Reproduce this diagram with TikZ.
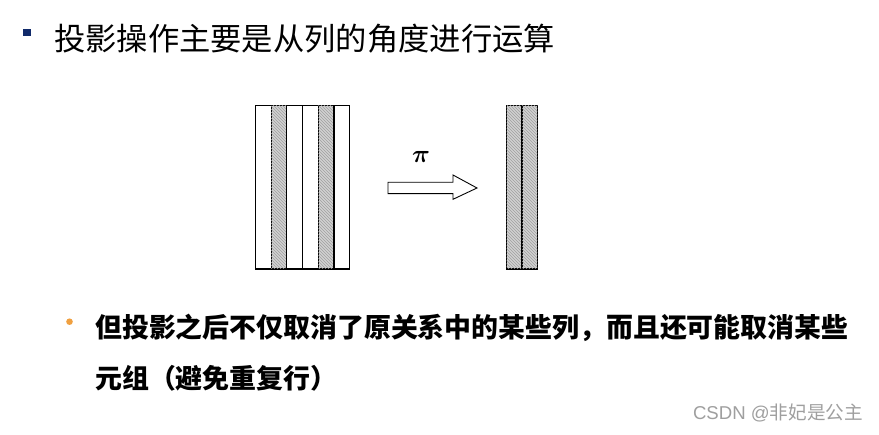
\documentclass[tikz,border=0pt]{standalone}
\usepackage{fontspec}
\usepackage{amsmath,bm}
\newfontfamily\cjk{Noto Sans CJK SC}
\newfontfamily\arial{Liberation Sans}
\usetikzlibrary{patterns}
\definecolor{navy}{HTML}{102A6A}
\definecolor{bulorange}{HTML}{F0A040}
\tikzset{
  colbox/.style={draw=black, line width=1.1pt},
  hatchbox/.style={colbox, fill=gray!35, postaction={pattern=north west lines, pattern color=gray!75}},
  blockarrow/.style={draw=black, line width=0.9pt, fill=white},
  titletext/.style={font=\cjk\fontsize{31.3}{36}\selectfont, anchor=west, inner sep=0pt},
  bodytext/.style={font=\cjk\bfseries\fontsize{26.9}{30}\selectfont, anchor=west, inner sep=0pt},
}
\begin{document}
\begin{tikzpicture}[x=1pt,y=-1pt]
\useasboundingbox[fill=white] (0,0) rectangle (879,435);
% title
\fill[navy] (23,28.7) rectangle (30.6,36.2);
\node[titletext] (title) at (54,39) {投影操作主要是从列的角度进行运算};
% left relation
\draw[colbox] (255.5,105.7) rectangle (271.2,269);
\draw[hatchbox] (271.2,105.7) rectangle (286.9,269);
\draw[colbox] (286.9,105.7) rectangle (302.6,269);
\draw[colbox] (302.6,105.7) rectangle (318.3,269);
\draw[hatchbox] (318.3,105.7) rectangle (334.0,269);
\draw[colbox] (334.0,105.7) rectangle (349.7,269);
% right relation
\draw[hatchbox] (506.7,105.7) rectangle (522.0,269);
\draw[hatchbox] (522.0,105.7) rectangle (537.3,269);
% arrow
\draw[blockarrow] (388,182.3) -- (453,182.3) -- (453,175) -- (477,188) -- (453,199.3) -- (453,193.7) -- (388,193.7) -- cycle;
\node[inner sep=0pt] (pi) at (421,157) {\fontsize{26}{28}\selectfont$\bm{\pi}$};
% bullet text
\fill[bulorange] (69.5,321.7) circle (3.3pt);
\node[bodytext] (l1) at (95,328) {但投影之后不仅取消了原关系中的某些列，而且还可能取消某些};
\node[bodytext] (l2) at (95,378) {元组（避免重复行）};
% watermark
\node[font=\fontsize{18.6}{21}\selectfont, text=gray!75, anchor=east, inner sep=0pt] (wm) at (863,413) {\arial CSDN @\cjk 非妃是公主};
\end{tikzpicture}
\end{document}
